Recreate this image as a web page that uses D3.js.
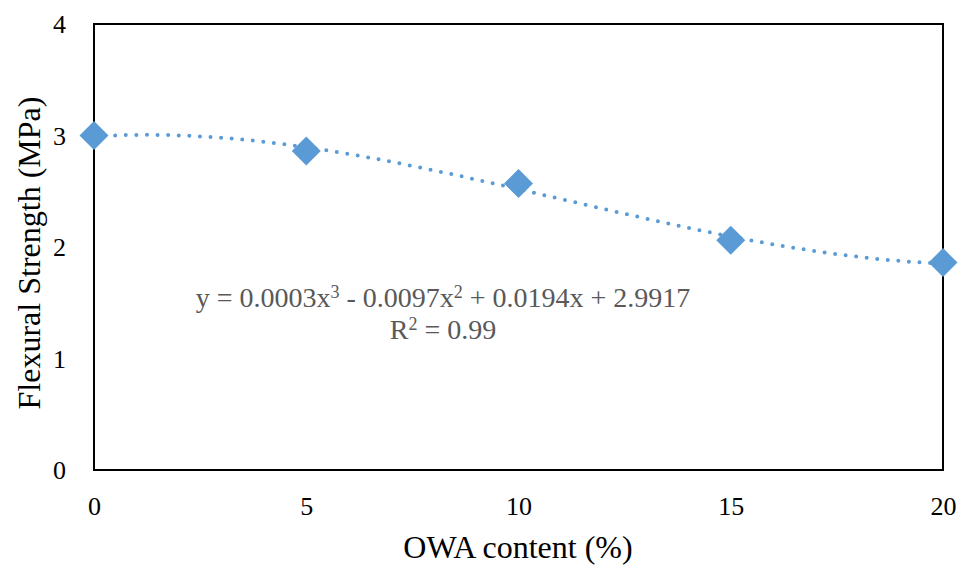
<!DOCTYPE html>
<html>
<head>
<meta charset="utf-8">
<script src="https://cdn.jsdelivr.net/npm/d3@7"></script>
<style>
  html, body { margin: 0; padding: 0; background: #fff; }
  svg { display: block; }
  text { font-family: "Liberation Serif", "Times New Roman", serif; }
</style>
</head>
<body>
<svg id="chart" width="959" height="567"></svg>
<script>
// OWA content (%) and measured flexural strength (MPa)
const owaContent = [0, 5, 10, 15, 20];
const flexuralStrength = [3.0, 2.86, 2.57, 2.06, 1.86];
const xTicks = [0, 5, 10, 15, 20];
const yTicks = [0, 1, 2, 3, 4];
const equationText = ["y = 0.0003x", "3", " - 0.0097x", "2", " + 0.0194x + 2.9917"];
const r2Text = ["R", "2", " = 0.99"];

const svg = d3.select("#chart");
const W = 959, H = 567;
const m = { left: 94, right: 16, top: 24, bottom: 97 };

const x = d3.scaleLinear().domain([0, 20]).range([m.left, W - m.right]);
const y = d3.scaleLinear().domain([0, 4]).range([H - m.bottom, m.top]);

// Least-squares cubic trendline through the measured points
function polyFit(xs, ys, order) {
  const n = order + 1;
  const A = Array.from({ length: n }, () => new Array(n + 1).fill(0));
  for (let i = 0; i < xs.length; i++) {
    for (let r = 0; r < n; r++) {
      for (let c = 0; c < n; c++) A[r][c] += Math.pow(xs[i], r + c);
      A[r][n] += ys[i] * Math.pow(xs[i], r);
    }
  }
  for (let p = 0; p < n; p++) {
    let best = p;
    for (let r = p + 1; r < n; r++) if (Math.abs(A[r][p]) > Math.abs(A[best][p])) best = r;
    [A[p], A[best]] = [A[best], A[p]];
    for (let r = 0; r < n; r++) {
      if (r === p) continue;
      const f = A[r][p] / A[p][p];
      for (let c = p; c <= n; c++) A[r][c] -= f * A[p][c];
    }
  }
  return A.map((row, i) => row[n] / row[i]);
}
const coef = polyFit(owaContent, flexuralStrength, 3);
const poly = v => coef.reduce((s, c, i) => s + c * Math.pow(v, i), 0);
const trendX = d3.range(0, 20.0001, 0.2);

svg.append("path")
  .datum(trendX)
  .attr("fill", "none")
  .attr("stroke", "#5B9BD5")
  .attr("stroke-width", 4)
  .attr("stroke-linecap", "round")
  .attr("stroke-dasharray", "0 10.6")
  .attr("d", d3.line().x(d => x(d)).y(d => y(poly(d))).curve(d3.curveMonotoneX));

// Plot frame
svg.append("rect")
  .attr("x", x(0)).attr("y", y(4))
  .attr("width", x(20) - x(0)).attr("height", y(0) - y(4))
  .attr("fill", "none").attr("stroke", "#000").attr("stroke-width", 2);

// Axes (labels only, no tick marks)
const xAxis = svg.append("g")
  .attr("transform", `translate(0,${y(0)})`)
  .call(d3.axisBottom(x).tickValues(xTicks).tickFormat(d3.format("d")).tickSize(0).tickPadding(0));
xAxis.select(".domain").remove();
xAxis.selectAll("text")
  .attr("dy", null).attr("y", 45)
  .attr("font-size", 26).attr("fill", "#000")
  .style("font-family", "'Liberation Serif', serif");

const yAxis = svg.append("g")
  .attr("transform", `translate(${x(0)},0)`)
  .call(d3.axisLeft(y).tickValues(yTicks).tickFormat(d3.format("d")).tickSize(0).tickPadding(0));
yAxis.select(".domain").remove();
yAxis.selectAll("text")
  .attr("x", -28).attr("dy", "0.33em")
  .attr("font-size", 26).attr("fill", "#000")
  .style("font-family", "'Liberation Serif', serif");

// Data markers (diamonds)
svg.append("g").selectAll("path")
  .data(owaContent.map((d, i) => [d, flexuralStrength[i]]))
  .join("path")
  .attr("transform", d => `translate(${x(d[0])},${y(d[1])})`)
  .attr("d", "M0,-14.5L14.5,0L0,14.5L-14.5,0Z")
  .attr("fill", "#5B9BD5");

// Axis titles
svg.append("text")
  .attr("x", 518).attr("y", 558)
  .attr("text-anchor", "middle")
  .attr("font-size", 32)
  .text("OWA content (%)");

svg.append("text")
  .attr("transform", `translate(40,253) rotate(-90)`)
  .attr("text-anchor", "middle")
  .attr("font-size", 32)
  .text("Flexural Strength (MPa)");

// Trendline equation and R²
function richText(parts, cx, cy) {
  const t = svg.append("text")
    .attr("x", cx).attr("y", cy)
    .attr("text-anchor", "middle")
    .attr("font-size", 28)
    .attr("fill", "#595959");
  parts.forEach((p, i) => {
    const sup = i % 2 === 1;
    t.append("tspan")
      .attr("font-size", sup ? 18 : 28)
      .attr("dy", sup ? -9 : (i > 0 ? 9 : 0))
      .text(p);
  });
}
richText(equationText, 443, 307);
richText(r2Text, 443, 339);
</script>
</body>
</html>
